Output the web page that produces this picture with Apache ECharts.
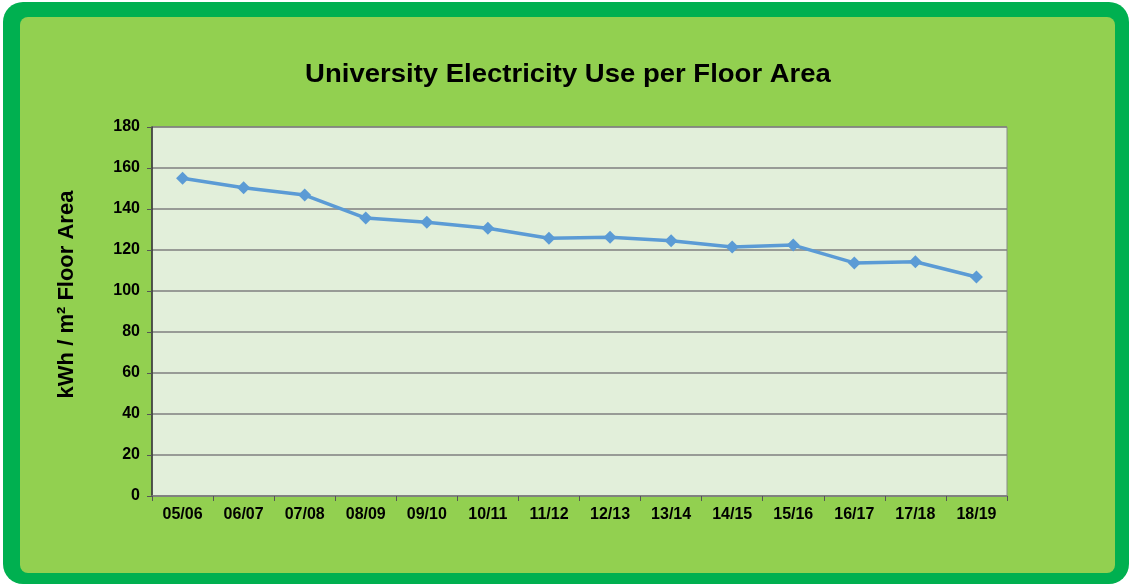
<!DOCTYPE html>
<html><head><meta charset="utf-8">
<script src="https://cdn.jsdelivr.net/npm/echarts@6/dist/echarts.min.js"></script>
<style>html,body{margin:0;padding:0;background:#fff;}#c{width:1129px;height:584px;}</style>
</head><body><div id="c"></div>
<script>
const categories = ['05/06','06/07','07/08','08/09','09/10','10/11','11/12','12/13','13/14','14/15','15/16','16/17','17/18','18/19'];
const values = [155.0, 150.4, 146.8, 135.6, 133.5, 130.6, 125.7, 126.2, 124.5, 121.5, 122.4, 113.7, 114.3, 106.8];
const titleText = 'University Electricity Use per Floor Area';
const yAxisName = 'kWh / m\u00B2 Floor Area';

const chart = echarts.init(document.getElementById('c'), null, {renderer: 'canvas'});
const font = 'Liberation Sans, Arial, sans-serif';
chart.setOption({
  animation: false,
  graphic: [
    {type: 'rect', z: -10, silent: true, shape: {x: 3, y: 2, width: 1126, height: 582, r: 20}, style: {fill: '#00B050'}},
    {type: 'rect', z: -9, silent: true, shape: {x: 20, y: 17, width: 1095, height: 556, r: 8}, style: {fill: '#92D050'}},
    {type: 'text', z: 10, silent: true, x: 568, y: 75, scaleX: 1.1,
     style: {text: titleText, textAlign: 'center', textVerticalAlign: 'middle',
             font: 'bold 25px Liberation Sans, Arial, sans-serif', fill: '#000'}}
  ],
  grid: {
    left: 152, top: 127, right: 122, bottom: 88,
    show: true, backgroundColor: '#E2EFDA', borderColor: '#8a8a8a', borderWidth: 1
  },
  xAxis: {
    type: 'category', data: categories, boundaryGap: true,
    axisLine: {lineStyle: {color: '#7f7f7f', width: 1.5}},
    axisTick: {show: true, alignWithLabel: false, length: 5, lineStyle: {color: '#555'}},
    axisLabel: {fontFamily: font, fontWeight: 'bold', fontSize: 16, color: '#000', margin: 11, interval: 0},
    splitLine: {show: false}
  },
  yAxis: {
    type: 'value', min: 0, max: 180, interval: 20,
    name: yAxisName, nameLocation: 'middle', nameGap: 74, nameRotate: 90,
    nameTextStyle: {fontFamily: font, fontWeight: 'bold', fontSize: 22, color: '#000', padding: [0, 0, 0, 34]},
    axisLine: {show: true, lineStyle: {color: '#333', width: 1.5}},
    axisTick: {show: true, length: 5, lineStyle: {color: '#555'}},
    axisLabel: {fontFamily: font, fontWeight: 'bold', fontSize: 16, color: '#000', margin: 12},
    splitLine: {show: true, lineStyle: {color: '#7f7f7f', width: 1.5}}
  },
  series: [{
    type: 'line', data: values,
    symbol: 'diamond', symbolSize: 13,
    lineStyle: {color: '#5B9BD5', width: 3.5},
    itemStyle: {color: '#5B9BD5'}
  }]
});
</script></body></html>
